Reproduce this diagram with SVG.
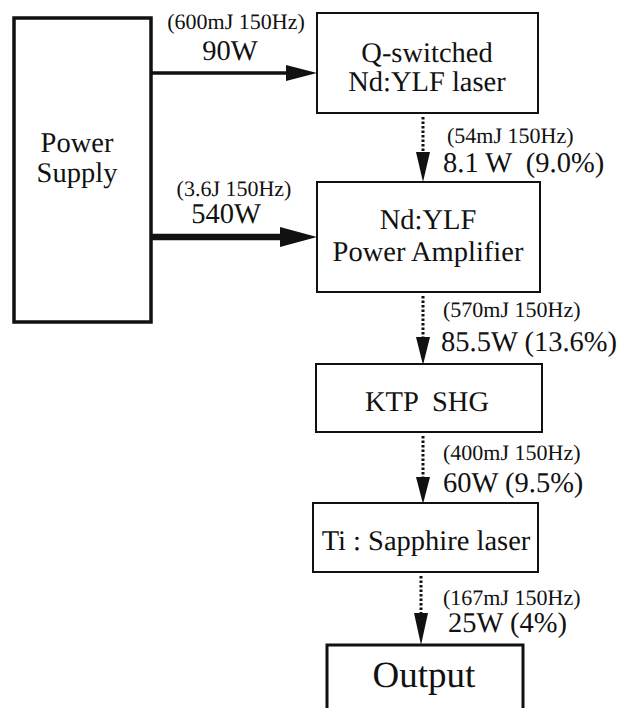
<svg xmlns="http://www.w3.org/2000/svg" width="622" height="708" viewBox="0 0 622 708">
<style>
text{font-family:"Liberation Serif","Times New Roman",serif;fill:#111;white-space:pre;text-rendering:geometricPrecision}
.m{font-size:28.5px}
.s{font-size:22px}
.c{text-anchor:middle}
.box{fill:#fff;stroke:#111;stroke-width:2}
.dot{stroke:#111;stroke-width:3;stroke-dasharray:2.5 2;fill:none}
.head{fill:#111}
</style>
<rect width="622" height="708" fill="#fff"/>
<g id="power-supply">
<rect x="14" y="18" width="137" height="304" fill="#fff" stroke="#111" stroke-width="3.5"/>
<text class="m c" x="77" y="152">Power</text>
<text class="m c" x="77" y="182">Supply</text>
</g>
<g id="qswitched">
<rect class="box" x="317" y="13" width="221" height="100"/>
<text class="m c" x="427" y="62">Q-switched</text>
<text class="m c" x="427" y="91">Nd:YLF laser</text>
</g>
<g id="amplifier">
<rect class="box" x="317" y="182" width="223" height="110"/>
<text class="m c" x="428" y="229">Nd:YLF</text>
<text class="m c" x="428" y="261">Power Amplifier</text>
</g>
<g id="ktp">
<rect class="box" x="316" y="364" width="226" height="68"/>
<text class="m c" x="427" y="411">KTP  SHG</text>
</g>
<g id="tisapphire">
<rect class="box" x="313" y="503" width="225" height="69"/>
<text class="m c" x="426" y="550">Ti : Sapphire laser</text>
</g>
<g id="output">
<rect x="327" y="645" width="196" height="70" fill="#fff" stroke="#111" stroke-width="3"/>
<text class="c" x="424" y="687" style="font-size:37px">Output</text>
</g>
<g id="connectors">
<line x1="151" y1="73" x2="289" y2="73" stroke="#111" stroke-width="3.5"/>
<polygon class="head" points="286,65 317,73 286,81"/>
<line x1="151" y1="237" x2="284" y2="237" stroke="#111" stroke-width="6.5"/>
<polygon class="head" points="280,227 317,237 280,247"/>
<line class="dot" x1="423" y1="117" x2="423" y2="154"/>
<polygon class="head" points="416,152 423,182 430,152"/>
<line class="dot" x1="423" y1="296" x2="423" y2="339"/>
<polygon class="head" points="416,337 423,365 430,337"/>
<line class="dot" x1="423" y1="436" x2="423" y2="479"/>
<polygon class="head" points="416,477 423,504 430,477"/>
<line class="dot" x1="421" y1="576" x2="421" y2="615"/>
<polygon class="head" points="414,613 421,645 428,613"/>
</g>
<g id="labels">
<text class="s c" x="236" y="29">(600mJ 150Hz)</text>
<text class="m c" x="230" y="60">90W</text>
<text class="s c" x="234" y="196">(3.6J 150Hz)</text>
<text class="m c" x="226" y="223">540W</text>
<text class="s" x="447" y="143">(54mJ 150Hz)</text>
<text class="m" x="443" y="172">8.1 W  (9.0%)</text>
<text class="s" x="443" y="317">(570mJ 150Hz)</text>
<text class="m" x="441" y="351">85.5W (13.6%)</text>
<text class="s" x="443" y="460">(400mJ 150Hz)</text>
<text class="m" x="443" y="492">60W (9.5%)</text>
<text class="s" x="443" y="605">(167mJ 150Hz)</text>
<text class="m" x="448" y="632">25W (4%)</text>
</g>
</svg>
